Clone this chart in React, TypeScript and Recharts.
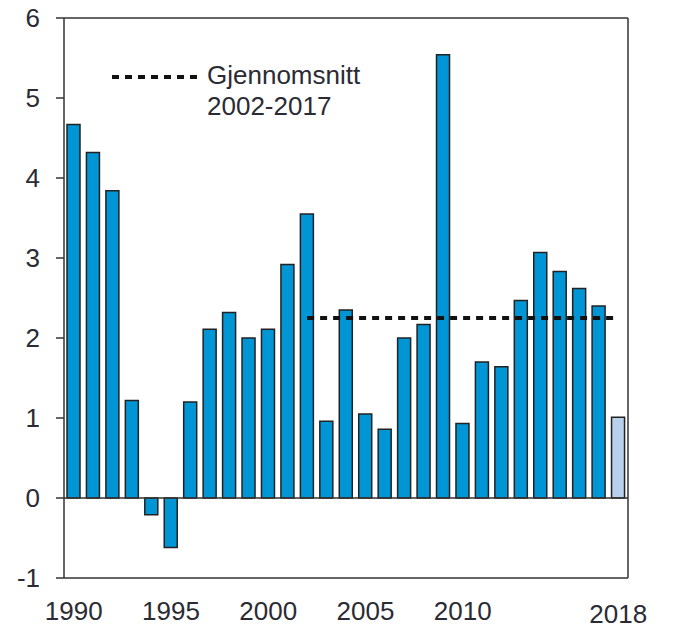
import { ComposedChart, Bar, Line, Cell, XAxis, YAxis, ReferenceLine } from "recharts";

const years = [
  1990, 1991, 1992, 1993, 1994, 1995, 1996, 1997, 1998, 1999,
  2000, 2001, 2002, 2003, 2004, 2005, 2006, 2007, 2008, 2009,
  2010, 2011, 2012, 2013, 2014, 2015, 2016, 2017, 2018,
];
const growth = [
  4.67, 4.32, 3.84, 1.22, -0.21, -0.62, 1.2, 2.11, 2.32, 2.0,
  2.11, 2.92, 3.55, 0.96, 2.35, 1.05, 0.86, 2.0, 2.17, 5.54,
  0.93, 1.7, 1.64, 2.47, 3.07, 2.83, 2.62, 2.4, 1.01,
];
const projectedYears = [2018];
const avgValue = 2.25;
const avgFrom = 2002;
const avgTo = 2018;
const yTicks = [-1, 0, 1, 2, 3, 4, 5, 6];
const xLabels = [1990, 1995, 2000, 2005, 2010, 2018];

const data = years.map((year, i) => ({
  year,
  value: growth[i],
  avg: year >= avgFrom && year <= avgTo ? avgValue : null,
}));

const FONT = "'Liberation Sans', Arial, Helvetica, sans-serif";
const TEXT = "#2b2b33";
const AXIS = "#333";
const DASH = "7 6";

function YearTick(props: any) {
  const { x, y, payload } = props;
  if (!xLabels.includes(payload.value)) return null;
  const drop = payload.value === 2018 ? 3 : 0;
  return (
    <text x={x} y={y + drop} dy="0.71em" textAnchor="middle" fill={TEXT} fontSize={26} fontFamily={FONT}>
      {payload.value}
    </text>
  );
}

export default function App() {
  return (
    <div style={{ position: "absolute", left: 0, top: 0, width: 673, height: 631, background: "#fff" }}>
      <ComposedChart
        width={673}
        height={631}
        data={data}
        margin={{ top: 18, right: 0, left: 0, bottom: 0 }}
        barSize={13}
      >
        <XAxis
          dataKey="year"
          interval={0}
          height={53}
          tickLine={false}
          tickSize={0}
          tickMargin={24}
          axisLine={{ stroke: AXIS, strokeWidth: 1.5 }}
          tick={<YearTick />}
        />
        <YAxis
          yAxisId="left"
          domain={[-1, 6]}
          ticks={yTicks}
          width={64}
          tickSize={8}
          tickMargin={16}
          axisLine={{ stroke: AXIS, strokeWidth: 1.5 }}
          tickLine={{ stroke: AXIS, strokeWidth: 1.5 }}
          tick={{ fill: TEXT, fontSize: 26, fontFamily: FONT }}
        />
        <YAxis
          yAxisId="right"
          orientation="right"
          domain={[-1, 6]}
          ticks={yTicks}
          width={45}
          tickSize={9}
          tickMargin={13}
          axisLine={{ stroke: AXIS, strokeWidth: 1.5 }}
          tickLine={{ stroke: AXIS, strokeWidth: 1.5 }}
          tick={{ fill: TEXT, fontSize: 26, fontFamily: FONT, textAnchor: "start" }}
        />
        <ReferenceLine yAxisId="left" y={6} stroke={AXIS} strokeWidth={1.5} />
        <ReferenceLine yAxisId="left" y={0} stroke={AXIS} strokeWidth={1.5} />
        <Bar yAxisId="left" dataKey="value" stroke="#222" strokeWidth={1.5} isAnimationActive={false}>
          {data.map((d) => (
            <Cell key={d.year} fill={projectedYears.includes(d.year) ? "#b9d0ec" : "#0096d6"} />
          ))}
        </Bar>
        <Line
          yAxisId="left"
          dataKey="avg"
          stroke="#111"
          strokeWidth={4}
          strokeDasharray={DASH}
          dot={false}
          activeDot={false}
          isAnimationActive={false}
        />
      </ComposedChart>
      <div style={{ position: "absolute", left: 112, top: 60, display: "flex", fontFamily: FONT, color: TEXT, fontSize: 26, lineHeight: "31px" }}>
        <svg width={90} height={31}>
          <line x1={0} y1={17} x2={88} y2={17} stroke="#111" strokeWidth={4} strokeDasharray={DASH} />
        </svg>
        <div style={{ marginLeft: 5 }}>
          Gjennomsnitt
          <br />
          2002-2017
        </div>
      </div>
    </div>
  );
}
